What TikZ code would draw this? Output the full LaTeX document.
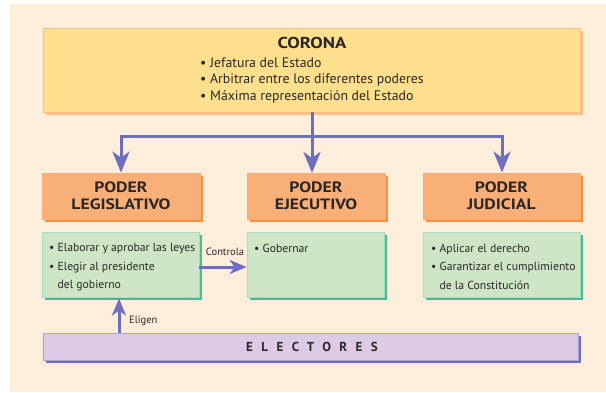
\documentclass[tikz,border=0pt]{standalone}
\usepackage{fontspec}
\setmainfont{PT Sans}
\newfontfamily\widehead{PT Sans}[FakeStretch=1.18]
\usetikzlibrary{arrows.meta,shadows}
\definecolor{bgcream}{HTML}{FDEEDB}
\definecolor{coronafill}{HTML}{FEDF8E}
\definecolor{coronaedge}{HTML}{F9BE85}
\definecolor{orfill}{HTML}{F9AF78}
\definecolor{orshadow}{HTML}{F7913F}
\definecolor{grfill}{HTML}{CFE6C6}
\definecolor{gredge}{HTML}{A4DDBE}
\definecolor{grshadow}{HTML}{45BC98}
\definecolor{vifill}{HTML}{DDCAE4}
\definecolor{viedge}{HTML}{A9A3D3}
\definecolor{arrowblue}{HTML}{6E6EBE}
\definecolor{txt}{HTML}{2A2626}
\tikzset{
  box/.style={draw, line width=0.8pt, inner sep=0pt, text=txt,
    drop shadow={shadow xshift=3pt, shadow yshift=-3pt, opacity=1, fill=#1}},
  coronabox/.style={box=coronaedge, fill=coronafill, draw=coronaedge},
  headbox/.style={box=orshadow, fill=orfill, draw=orfill!90!orshadow, align=center,
    font=\widehead\fontsize{15}{16.8}\selectfont\bfseries},
  bodybox/.style={box=grshadow, fill=grfill, draw=gredge},
  votebox/.style={box=arrowblue, fill=vifill, draw=viedge},
  bodytext/.style={anchor=north west, align=left, inner sep=0pt, text=txt,
    font=\fontsize{11.7}{18.5}\selectfont},
  conn/.style={draw=arrowblue, line width=3pt},
  arr/.style={conn, -{Stealth[length=21pt,width=17pt,inset=6pt]}},
  smallarr/.style={conn, -{Stealth[length=17pt,width=14pt,inset=5pt]}},
  lbl/.style={inner sep=0pt, text=txt, font=\fontsize{10.5}{12}\selectfont}
}
\begin{document}
\begin{tikzpicture}[x=1pt,y=-1pt]
\useasboundingbox (0,0) rectangle (606,392);
\fill[bgcream] (10,4) rectangle (606,392);

\node[coronabox, minimum width=537pt, minimum height=84pt] (corona) at (311.5,70) {};
\node[text=txt, inner sep=0pt, font=\widehead\fontsize{15.8}{16}\selectfont\bfseries] (coronatitle) at (312,42.5) {CORONA};
\node[bodytext, font=\fontsize{13.8}{16.3}\selectfont] (coronatext) at (200,57.5) {%
\textbullet\ Jefatura del Estado\\
\textbullet\ Arbitrar entre los diferentes poderes\\
\textbullet\ Máxima representación del Estado};

\node[headbox, minimum width=158pt, minimum height=46pt] (leghead) at (121,196) {PODER\\LEGISLATIVO};
\node[headbox, minimum width=138pt, minimum height=46pt] (ejehead) at (316,196) {PODER\\EJECUTIVO};
\node[headbox, minimum width=157pt, minimum height=46pt] (judhead) at (501.5,196) {PODER\\JUDICIAL};

\node[bodybox, minimum width=157pt, minimum height=65pt] (legbody) at (120.5,264.5) {};
\node[bodybox, minimum width=137pt, minimum height=65pt] (ejebody) at (315.5,264.5) {};
\node[bodybox, minimum width=157pt, minimum height=65pt] (judbody) at (501.5,264.5) {};

\node[bodytext] (legtext) at (49,243.5) {%
\textbullet\ Elaborar y aprobar las leyes\\
\textbullet\ Elegir al presidente\\
\phantom{\textbullet\ }del gobierno};
\node[bodytext] (ejetext) at (254,243.5) {\textbullet\ Gobernar};
\node[bodytext] (judtext) at (431,243.5) {%
\textbullet\ Aplicar el derecho\\
\textbullet\ Garantizar el cumplimiento\\
\phantom{\textbullet\ }de la Constitución};

\node[votebox, minimum width=535pt, minimum height=27pt] (electores) at (310.5,346.5) {};
\node[text=txt, inner sep=0pt, font=\fontsize{13}{14}\selectfont\bfseries\addfontfeature{LetterSpace=65}] (electext) at (312,347) {ELECTORES};

\coordinate (hl) at (121,136);
\coordinate (hr) at (502,136);
\draw[conn] (312,112) -- (312,136);
\draw[arr] (hr) -- (hl) -- (hl |- leghead.north);
\draw[arr] (hl) -- (hr) -- (hr |- judhead.north);
\draw[arr] (312,112) -- (312,173);

\draw[smallarr] (legbody.east |- 0,267) -- (ejebody.west |- 0,267);
\node[lbl, anchor=base] (controla) at (225,255) {Controla};
\draw[smallarr] (119,333) -- (119,298.5);
\node[lbl, anchor=west] (eligen) at (129,321) {Eligen};
\end{tikzpicture}
\end{document}
